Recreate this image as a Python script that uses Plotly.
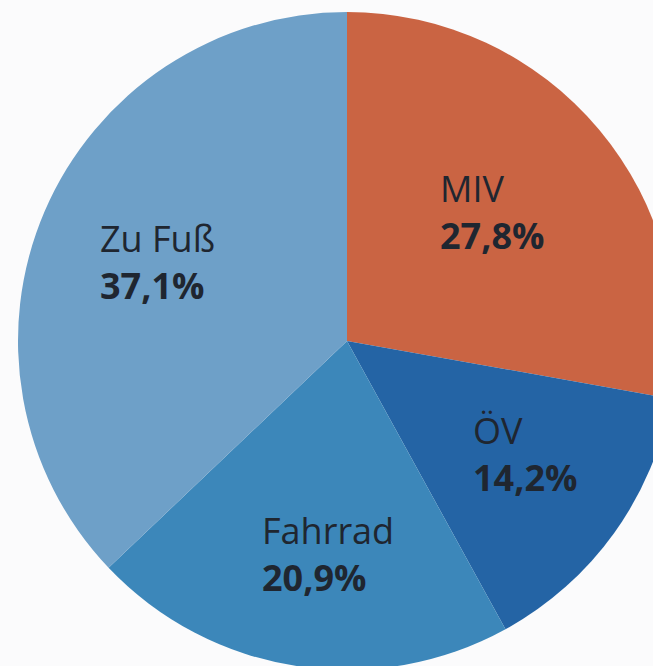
import plotly.graph_objects as go

# Data
categories = ["MIV", "ÖV", "Fahrrad", "Zu Fuß"]
shares = [27.8, 14.2, 20.9, 37.1]
share_labels = ["27,8%", "14,2%", "20,9%", "37,1%"]
colors = ["#ca6443", "#2464a5", "#3c87ba", "#6ea0c8"]

# Figure geometry (pie slightly larger than the visible window, as in the scan)
W, H = 676, 670
cx_left, top = 18, 12

fig = go.Figure(go.Pie(
    labels=categories,
    values=shares,
    sort=False,
    direction="clockwise",
    rotation=0,
    marker=dict(colors=colors, line=dict(width=0)),
    textinfo="none",
    hoverinfo="label+percent",
    showlegend=False,
    domain=dict(x=[cx_left / W, 1], y=[0, 1 - top / H]),
))

# label block positions (left edge, vertical middle), in pixels
label_pos = {"MIV": (438, 212), "ÖV": (471, 454), "Fahrrad": (260, 554), "Zu Fuß": (98, 262)}

for cat, lab in zip(categories, share_labels):
    x, y = label_pos[cat]
    fig.add_annotation(x=x / W, y=1 - y / H, xref="paper", yref="paper",
                       text=cat + "<br><b>" + lab + "</b>", showarrow=False,
                       xanchor="left", yanchor="middle", align="left",
                       font=dict(family="Open Sans", size=36, color="#1f2630"))

fig.update_layout(
    width=W, height=H,
    margin=dict(l=0, r=0, t=0, b=0),
    paper_bgcolor="#fbfbfc",
    plot_bgcolor="#fbfbfc",
)

fig.write_html(
    "out.html",
    config={"displayModeBar": False},
    post_script="document.documentElement.style.overflow='hidden';document.body.style.overflow='hidden';document.body.style.margin='0';",
)
